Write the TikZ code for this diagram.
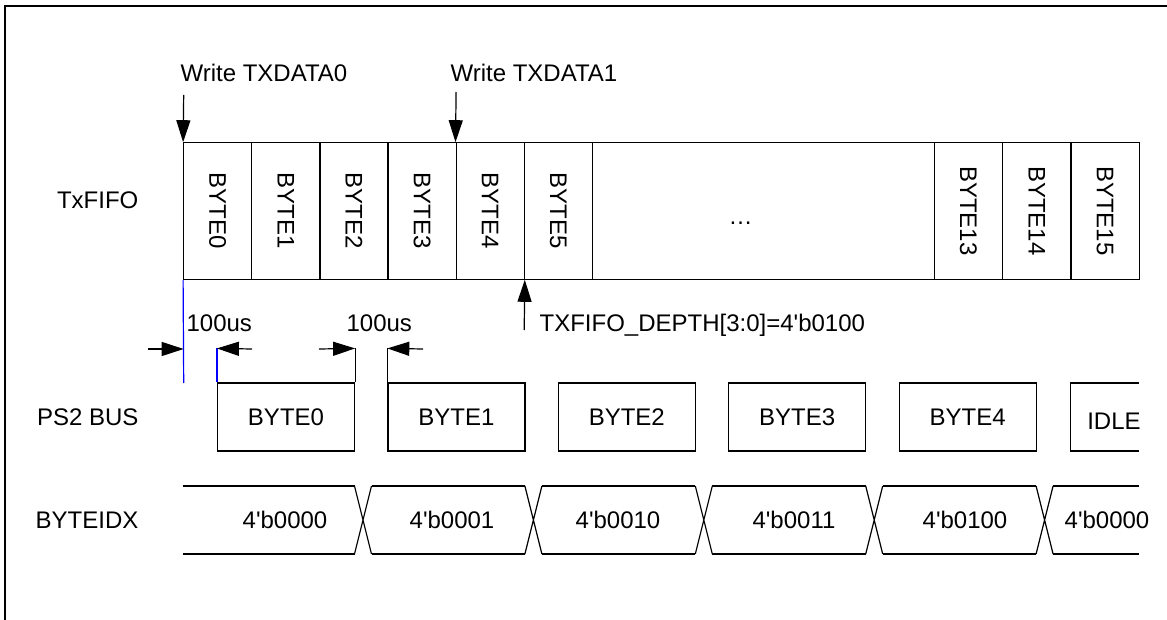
\documentclass[tikz,border=0pt]{standalone}
\usepackage{fontspec}
\setmainfont{Liberation Sans}
\usepackage{tikz}
\usetikzlibrary{arrows.meta, positioning}
\tikzset{
	txt/.style={inner sep=0pt},
	signame/.style={txt, anchor=east}
}
\tikzset{
	fifocell/.style={draw, minimum width=68.1pt, minimum height=136.4pt, inner sep=0pt},
	pktbox/.style={draw, minimum width=137pt, minimum height=68pt, inner sep=0pt},
	bigarrow/.style={-{Triangle[length=22pt,width=14pt]}},
	blueline/.style={draw=blue}
}
\newcommand{\tq}{\textquotesingle}

\begin{document}
\begin{tikzpicture}[x=1pt, y=-1pt, line width=1.2pt, font=\fontsize{24}{28}\selectfont]
  \useasboundingbox (0,0) rectangle (1167,620);
  \draw[line width=1.5pt] (5,620) -- (5,6) -- (1167,6);
  % signal names
  \node[signame] (nfifo) at (139,200) {TxFIFO};
  \node[signame] (nbus) at (139,417) {PS2 BUS};
  \node[signame] (nidx) at (139,520) {BYTEIDX};
  % fifo cells
  \foreach \i in {0,...,5}
    \node[fifocell] (f\i) at ({217.75+68.1*\i},211) {\rotatebox{-90}{BYTE\i}};
  \node[fifocell, minimum width=341.9pt] (fdots) at (763.25,211) {};
  \node[txt, anchor=base] (dots) at (740.5,225) {…};
  \foreach \i [count=\k from 0] in {13,14,15}
    \node[fifocell, minimum width=68.35pt] (f\i) at ({968.4+68.35*\k},211) {\rotatebox{-90}{BYTE\i}};
  % writes and depth
  \coordinate (w0) at (183.7,95);
  \coordinate (w1) at (456.1,92);
  \draw[bigarrow] (w0) -- (f0.north west);
  \draw[bigarrow] (w1) -- (f4.north west);
  \node[txt, anchor=base west] (lw0) at (180,82) {Write TXDATA0};
  \node[txt, anchor=base west] (lw1) at (450,82) {Write TXDATA1};
  \coordinate (dep) at (524.2,330);
  \draw[bigarrow] (dep) -- (f4.south east);
  \node[txt, anchor=base west] (ldep) at (539,331) {TXFIFO\_DEPTH[3:0]=4\tq b0100};
  % ps2 bus frames
  \foreach \i in {0,...,4}
    \node[pktbox] (p\i) at ({286+170.4*\i},417) {BYTE\i};
  \draw (1139,383) -| (1070.7,451) -- (1139,451);
  \node[txt, anchor=west] (pidle) at (1086.7,421) {IDLE};
  % 100us gaps
  \coordinate (t0) at (183.7,383);
  \draw[blueline] (f0.south west) -- (t0);
  \draw[blueline] (p0.north west) -- ++(0,-34) coordinate (t1);
  \draw (p0.north east) -- ++(0,-34) coordinate (t2);
  \draw (p1.north west) -- ++(0,-34) coordinate (t3);
  \draw[bigarrow] (148,349) -- (183.7,349);
  \draw[bigarrow] (252,349) -- (t1);
  \draw[bigarrow] (319,349) -- (t2);
  \draw[bigarrow] (423,349) -- (t3);
  \node[txt, anchor=west] (g0) at (186,323) {100us};
  \node[txt, anchor=west] (g1) at (346,323) {100us};
  % byte index bus
  \foreach \c in {363,533.4,703.8,874.2,1044.6}
    \draw ({\c-8.5},486) -- ({\c+8.5},554) ({\c-8.5},554) -- ({\c+8.5},486);
  \foreach \a/\b in {183/354.5, 371.5/524.9, 541.9/695.3, 712.3/865.7, 882.7/1036.1, 1053.1/1139}
    \draw (\a,486) -- (\b,486) (\a,554) -- (\b,554);
  \foreach \x/\v [count=\k from 0] in {285/0000, 452/0001, 618/0010, 794/0011, 965/0100, 1107/0000}
    \node[txt] (b\k) at (\x,520) {4\tq b\v};
\end{tikzpicture}
\end{document}
